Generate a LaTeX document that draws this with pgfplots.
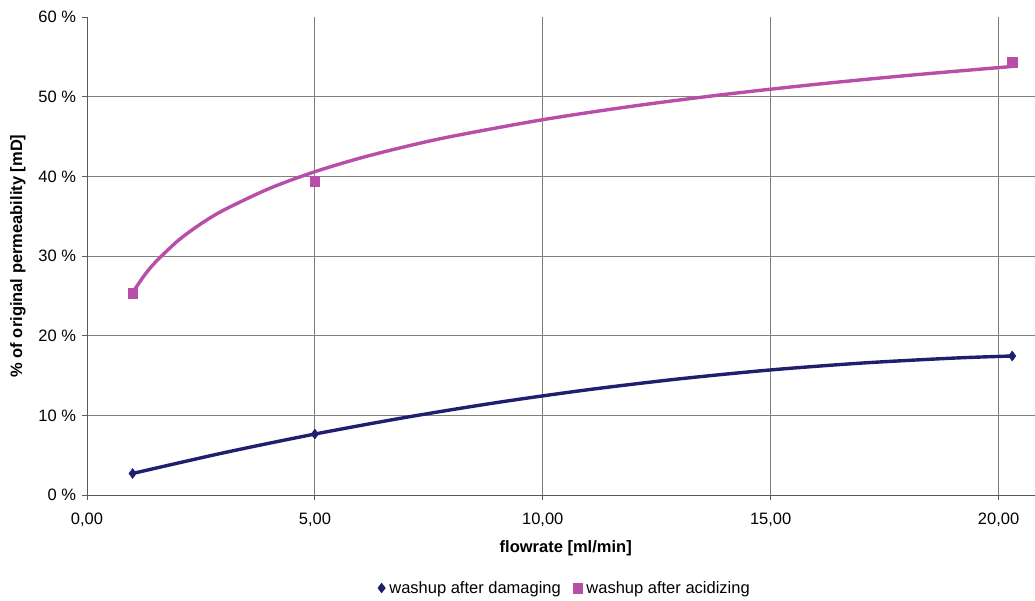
\documentclass[border=0pt]{standalone}
\usepackage{pgfplots}
\pgfplotsset{compat=1.18}
\usepackage{fontspec}
\setmainfont{Liberation Sans}
\definecolor{navyc}{RGB}{31,31,110}
\definecolor{magc}{RGB}{184,78,168}
\definecolor{gridc}{RGB}{128,128,128}
\definecolor{axc}{RGB}{90,90,90}
\begin{document}
\begin{tikzpicture}
\useasboundingbox (-87bp,-106bp) rectangle (948bp,495bp);
\begin{axis}[
  scale only axis,
  width=948bp, height=478bp,
  xmin=0, xmax=20.8, ymin=0, ymax=60,
  xtick={0,5,10,15,20}, ytick={0,10,20,30,40,50},
  extra y ticks={60}, extra y tick style={grid=none},
  axis x line*=bottom, axis y line*=left,
  axis line style={axc, line width=0.8bp, -},
  tick style={axc, line width=0.8bp},
  tick align=outside, major tick length=5bp,
  grid=major, major grid style={gridc, line width=0.8bp},
  font=\fontsize{16.5bp}{19bp}\selectfont,
  /pgf/number format/assume math mode=true,
  yticklabel={\pgfmathprintnumber{\tick}~\%},
  extra y tick labels={60~\%},
  yticklabel style={xshift=-2.5bp},
  xticklabel style={yshift=-9bp, /pgf/number format/.cd, fixed, fixed zerofill, precision=2, use comma},
  xlabel={\bfseries flowrate [ml/min]},
  ylabel={\bfseries \% of original permeability [mD]},
  xlabel style={at={(axis description cs:0.505,-0.111)}, anchor=center},
  ylabel style={at={(axis description cs:-0.0728,0.5)}, anchor=center},
  legend style={at={(axis description cs:0.504,-0.1946)}, anchor=center, draw=none, fill=none,
    legend columns=2, font=\fontsize{16.5bp}{19bp}\selectfont,
    /tikz/every even column/.append style={column sep=10bp}},
  legend cell align=left,
]
% trend curves
\addplot[forget plot, navyc, line width=3.4bp, smooth] coordinates {
 (1,2.70) (3,5.30) (5,7.65) (7,9.75) (9,11.61) (11,13.22) (13,14.58) (15,15.70) (17,16.56) (19,17.18) (20.3,17.45)};
\addplot[forget plot, magc, line width=3.4bp, smooth] coordinates {
 (1,25.40) (1.25,27.50) (1.5,29.22) (2,31.94) (2.5,34.04) (3,35.76) (4,38.47) (5,40.58) (6,42.30) (7,43.75) (8,45.01) (10,47.11) (12,48.83) (14,50.29) (16,51.55) (18,52.66) (20.3,53.79)};
% data points
\addplot[only marks, mark=diamond*, mark size=5bp, color=navyc] coordinates {(1,2.7) (5,7.65) (20.3,17.45)};
\addlegendentry{\hspace{2bp}washup after damaging}
\addplot[only marks, mark=square*, mark size=4.8bp, color=magc] coordinates {(1,25.35) (5,39.4) (20.3,54.3)};
\addlegendentry{\hspace{2bp}washup after acidizing}
\end{axis}
\end{tikzpicture}
\end{document}
